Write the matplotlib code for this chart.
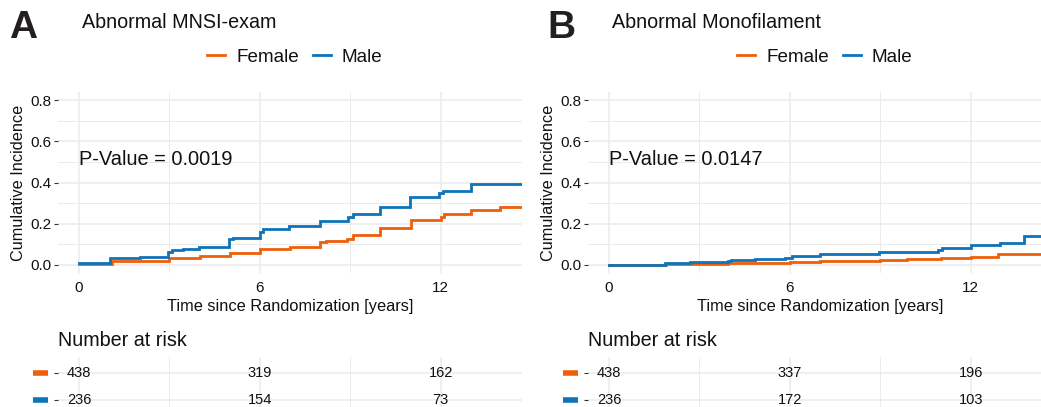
import matplotlib
matplotlib.use("Agg")
import matplotlib.pyplot as plt
from matplotlib.lines import Line2D
import matplotlib.transforms as mtransforms

plt.rcParams['font.family'] = ['Liberation Sans', 'DejaVu Sans']

# ---------------- data ----------------
groups = ["Female", "Male"]
colors = {"Female": "#EE5F0B", "Male": "#0E73B8"}

panel_letters = ["A", "B"]
panel_titles = ["Abnormal MNSI-exam", "Abnormal Monofilament"]
pvalues = ["P-Value = 0.0019", "P-Value = 0.0147"]

# Panel A step curves
a_female_t = [0, 1.1, 2.0, 3.0, 4.0, 5.0, 6.0, 7.0, 8.0, 8.2, 8.9, 9.1, 10.0, 11.0, 12.0, 12.1, 13.0, 13.97, 14.7]
a_female_v = [0.005, 0.016, 0.02, 0.032, 0.043, 0.057, 0.076, 0.084, 0.11, 0.115, 0.126, 0.143, 0.178, 0.218, 0.234, 0.245, 0.267, 0.28, 0.28]
a_male_t = [0, 1.03, 2.02, 2.96, 3.07, 3.46, 3.98, 4.99, 5.12, 6.0, 6.1, 6.98, 7.98, 8.92, 9.1, 9.99, 10.98, 11.96, 12.09, 13.0, 14.7]
a_male_v = [0.011, 0.032, 0.04, 0.06, 0.07, 0.075, 0.085, 0.125, 0.13, 0.16, 0.173, 0.19, 0.215, 0.23, 0.245, 0.283, 0.33, 0.348, 0.357, 0.393, 0.393]

# Panel B step curves
b_female_t = [0, 1.9, 3.96, 6.0, 7.0, 9.0, 9.9, 11.0, 12.0, 12.9, 14.7]
b_female_v = [0.0, 0.002, 0.008, 0.015, 0.019, 0.024, 0.029, 0.035, 0.04, 0.053, 0.053]
b_male_t = [0, 1.86, 2.69, 3.96, 4.05, 4.84, 5.83, 6.06, 7.0, 8.96, 10.9, 11.04, 12.0, 12.98, 13.77, 14.7]
b_male_v = [0.0, 0.008, 0.012, 0.018, 0.022, 0.027, 0.033, 0.045, 0.052, 0.06, 0.073, 0.081, 0.094, 0.105, 0.142, 0.142]

risk_times = [0, 6, 12]
a_risk_female = [438, 319, 162]
a_risk_male = [236, 154, 73]
b_risk_female = [438, 337, 196]
b_risk_male = [236, 172, 103]

x_ticks = [0, 6, 12]
x_minor = [3, 9]
y_ticks = [0.0, 0.2, 0.4, 0.6, 0.8]
y_minor = [0.1, 0.3, 0.5, 0.7]

panels = [
    dict(curves={"Female": (a_female_t, a_female_v), "Male": (a_male_t, a_male_v)},
         risk={"Female": a_risk_female, "Male": a_risk_male}),
    dict(curves={"Female": (b_female_t, b_female_v), "Male": (b_male_t, b_male_v)},
         risk={"Female": b_risk_female, "Male": b_risk_male}),
]

# ---------------- layout ----------------
W, H = 1041, 407
fig = plt.figure(figsize=(W / 100, H / 100), dpi=100)


def rect(l, t, r, b):
    return [l / W, 1 - b / H, (r - l) / W, (b - t) / H]


offsets = [0, 530]
grid_c = "#EBEBEB"
txt_c = "#111111"
tick_c = "#333333"

for i, p in enumerate(panels):
    dx = offsets[i]
    ax = fig.add_axes(rect(58 + dx, 92, 522 + dx, 273))
    ax.set_xlim(-0.7, 14.7)
    ax.set_ylim(-0.04, 0.84)
    for s in ax.spines.values():
        s.set_visible(False)
    ax.set_xticks(x_ticks)
    ax.set_xticks(x_minor, minor=True)
    ax.set_yticks(y_ticks)
    ax.set_yticks(y_minor, minor=True)
    ax.set_yticklabels([f"{v:.1f}" for v in y_ticks])
    ax.grid(True, which="major", color=grid_c, lw=1.1)
    ax.grid(True, which="minor", color=grid_c, lw=0.7)
    ax.set_axisbelow(True)
    ax.tick_params(which="major", length=3, width=0.8, color=tick_c, labelsize=11,
                   labelcolor=txt_c, pad=2)
    ax.tick_params(which="minor", length=0)
    ax.tick_params(axis="x", length=0, pad=6)
    for g in groups:
        t, v = p["curves"][g]
        ax.step(t, v, where="post", color=colors[g], lw=2.0, solid_joinstyle="miter")
    ax.text(0, 0.51, pvalues[i], fontsize=14.4, color=txt_c, ha="left", va="center")
    ax.set_xlabel("Time since Randomization [years]", fontsize=11.8, color=txt_c, labelpad=3)
    ax.set_ylabel("Cumulative Incidence", fontsize=11.7, color=txt_c, labelpad=3)

    # risk table
    rt = fig.add_axes(rect(58 + dx, 357, 522 + dx, 416))
    rt.set_xlim(-0.7, 14.7)
    rt.set_ylim(0.4, 2.6)
    for s in rt.spines.values():
        s.set_visible(False)
    rt.set_xticks(x_ticks)
    rt.set_xticks(x_minor, minor=True)
    rt.set_yticks([2, 1])
    rt.set_yticklabels(["", ""])
    rt.set_xticklabels([])
    rt.grid(True, which="major", color=grid_c, lw=1.1)
    rt.grid(True, which="minor", axis="x", color=grid_c, lw=0.7)
    rt.set_axisbelow(True)
    rt.tick_params(axis="y", length=3, width=0.8, color=tick_c)
    rt.tick_params(axis="x", length=0)
    rt.tick_params(which="minor", length=0)
    for row, g in zip([2, 1], groups):
        for tt, n in zip(risk_times, p["risk"][g]):
            rt.text(tt, row, str(n), ha="center", va="center", fontsize=10.5, color=txt_c)
        trans = mtransforms.blended_transform_factory(rt.transAxes, rt.transData)
        rt.plot([-0.054, -0.022], [row, row], transform=trans, color=colors[g], lw=4,
                solid_capstyle="butt", clip_on=False)
    fig.text((58 + dx) / W, 1 - 340 / H, "Number at risk", fontsize=14.2, color=txt_c,
             ha="left", va="center")

    # titles
    fig.text((9 + dx + (8 if i == 1 else 0)) / W, 1 - 28 / H, panel_letters[i], fontsize=28,
             fontweight="bold", color="#231f20", ha="left", va="center")
    fig.text((82 + dx) / W, 1 - 22 / H, panel_titles[i], fontsize=14.2,
             color=txt_c, ha="left", va="center")

    handles = [Line2D([], [], color=colors[g], lw=2.0) for g in groups]
    fig.legend(handles, groups, loc="center", bbox_to_anchor=((295 + dx) / W, 1 - 57 / H),
               ncol=2, frameon=False, fontsize=13.6, handlelength=0.95, handletextpad=0.6,
               columnspacing=0.7, borderpad=0, labelcolor=txt_c)

fig.savefig("out.png", dpi=100)
